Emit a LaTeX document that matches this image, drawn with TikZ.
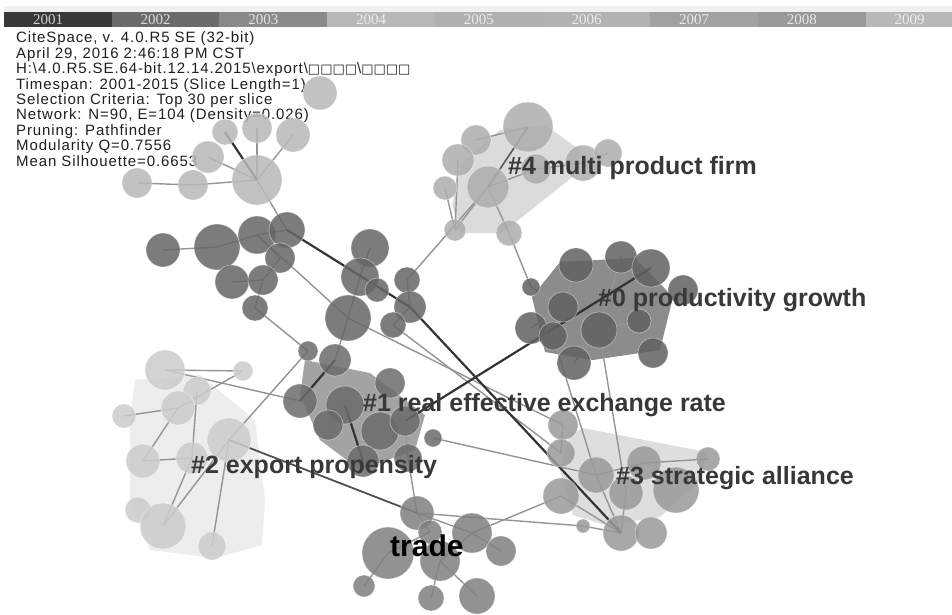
\documentclass[tikz,border=0pt]{standalone}
\usepackage{fontspec}
\setmainfont{Liberation Sans}
\newfontfamily\infofont[LetterSpace=6]{Liberation Sans}
\newfontfamily\labfont{Liberation Sans}
\newfontfamily\yearfont{Liberation Serif}
\newfontfamily\symfont{DejaVu Sans}
\pgfdeclarelayer{back}
\pgfdeclarelayer{hull}
\pgfdeclarelayer{edges}
\pgfsetlayers{back,hull,edges,main}
\definecolor{cul}{gray}{0.72}
\definecolor{cdk}{gray}{0.40}
\definecolor{cfour}{gray}{0.68}
\definecolor{czero}{gray}{0.38}
\definecolor{cone}{gray}{0.42}
\definecolor{ctwo}{gray}{0.80}
\definecolor{ctr}{gray}{0.50}
\definecolor{cthree}{gray}{0.60}
\definecolor{hfour}{gray}{0.86}
\definecolor{hzero}{gray}{0.55}
\definecolor{hone}{gray}{0.64}
\definecolor{htwo}{gray}{0.93}
\definecolor{hthree}{gray}{0.87}
\definecolor{edc}{gray}{0.58}
\definecolor{edk}{gray}{0.20}
\definecolor{labc}{gray}{0.22}
\definecolor{infoc}{gray}{0.12}
\tikzset{
  nd/.style={circle,inner sep=0pt,minimum size=#1,draw=white,draw opacity=0.45,line width=0.7pt,fill opacity=0.85},
  ed/.style={draw=edc,line width=1.4pt},
  edd/.style={draw=edk,line width=2.2pt},
  lab/.style={font=\labfont\bfseries\fontsize{25}{25}\selectfont,text=labc,inner sep=0pt,anchor=west},
  info/.style={font=\infofont\fontsize{15}{15}\selectfont,text=infoc,inner sep=0pt,anchor=base west},
  yr/.style={font=\yearfont\fontsize{15}{15}\selectfont,text=white,text opacity=0.75,inner sep=0pt}
}
\newcommand{\boxglyphs}{{\symfont\fontsize{13}{13}\selectfont □□□□}}
\begin{document}
\begin{tikzpicture}[x=1pt,y=-1pt]
\useasboundingbox (0,0) rectangle (952,615);
\begin{pgfonlayer}{back}
\fill[white] (0,0) rectangle (952,615);
\end{pgfonlayer}
% year bar
\fill[gray!12] (4,6) rectangle (952,12);
\foreach \i/\c/\yy in {0/0.22/2001,1/0.42/2002,2/0.54/2003,3/0.72/2004,4/0.69/2005,5/0.70/2006,6/0.63/2007,7/0.60/2008,8/0.72/2009}{
  \fill[fill={rgb,1:red,\c;green,\c;blue,\c}] ({4+107.7*\i},12) rectangle ({4+107.7*(\i+1)},27);
  \node[yr] (y\i) at ({4+107.7*\i+44},19.5) {\yy};
}
% info text
\node[info] (i1) at (16,43) {CiteSpace, v. 4.0.R5 SE (32-bit)};
\node[info] (i2) at (16,58.4) {April 29, 2016 2:46:18 PM CST};
\node[info] (i3) at (16,73.8) {H:\textbackslash 4.0.R5.SE.64-bit.12.14.2015\textbackslash export\textbackslash\boxglyphs\textbackslash\boxglyphs};
\node[info] (i4) at (16,89.2) {Timespan: 2001-2015 (Slice Length=1)};
\node[info] (i5) at (16,104.6) {Selection Criteria: Top 30 per slice};
\node[info] (i6) at (16,120) {Network: N=90, E=104 (Density=0.026)};
\node[info] (i7) at (16,135.4) {Pruning: Pathfinder};
\node[info] (i8) at (16,150.8) {Modularity Q=0.7556};
\node[info] (i9) at (16,166.2) {Mean Silhouette=0.6653};
% hulls
\begin{pgfonlayer}{hull}
\fill[hfour] (460,233)--(502,233)--(575,175)--(580,150)--(545,125)--(500,130)--(462,162)--(452,205)--cycle;
\fill[hzero] (532,297)--(560,262)--(635,258)--(673,297)--(660,350)--(593,360)--(545,352)--cycle;
\fill[hone] (305,360)--(370,373)--(425,415)--(415,450)--(360,470)--(320,440)--(300,395)--cycle;
\fill[htwo] (135,380)--(200,375)--(255,420)--(265,500)--(262,545)--(215,558)--(150,550)--(130,500)--(130,420)--cycle;
\fill[hthree] (583,428)--(706,452)--(700,480)--(660,517)--(605,525)--(573,515)--(560,470)--(570,435)--cycle;
\end{pgfonlayer}
% upper-left light cluster
\node[nd=34pt,fill=cul] (ua) at (320,93) {};
\node[nd=26pt,fill=cul] (ub) at (225,132) {};
\node[nd=30pt,fill=cul] (uc) at (257,128) {};
\node[nd=34pt,fill=cul] (ud) at (293,135) {};
\node[nd=32pt,fill=cul] (ue) at (208,157) {};
\node[nd=30pt,fill=cul] (uf) at (137,183) {};
\node[nd=30pt,fill=cul] (ug) at (193,185) {};
\node[nd=50pt,fill=cul] (uh) at (257,180) {};
% dark upper cluster
\node[nd=34pt,fill=cdk] (da) at (163,250) {};
\node[nd=46pt,fill=cdk] (db) at (217,247) {};
\node[nd=38pt,fill=cdk] (dc) at (257,235) {};
\node[nd=36pt,fill=cdk] (dd) at (287,230) {};
\node[nd=30pt,fill=cdk] (de) at (280,258) {};
\node[nd=34pt,fill=cdk] (df) at (232,282) {};
\node[nd=30pt,fill=cdk] (dg) at (263,280) {};
\node[nd=26pt,fill=cdk] (dh) at (255,308) {};
\node[nd=38pt,fill=cdk] (di) at (370,248) {};
\node[nd=38pt,fill=cdk] (dj) at (360,277) {};
\node[nd=24pt,fill=cdk] (dk) at (377,290) {};
\node[nd=46pt,fill=cdk] (dl) at (348,318) {};
\node[nd=26pt,fill=cdk] (dm) at (407,280) {};
\node[nd=32pt,fill=cdk] (dn) at (410,307) {};
\node[nd=26pt,fill=cdk] (do) at (393,325) {};
% cluster 4
\node[nd=50pt,fill=cfour] (fa) at (528,127) {};
\node[nd=30pt,fill=cfour] (fb) at (476,140) {};
\node[nd=32pt,fill=cfour] (fc) at (458,160) {};
\node[nd=24pt,fill=cfour] (fd) at (445,188) {};
\node[nd=42pt,fill=cfour] (fe) at (488,187) {};
\node[nd=30pt,fill=cfour] (ff) at (536,169) {};
\node[nd=36pt,fill=cfour] (fg) at (583,163) {};
\node[nd=28pt,fill=cfour] (fh) at (608,153) {};
\node[nd=22pt,fill=cfour] (fi) at (455,230) {};
\node[nd=26pt,fill=cfour] (fj) at (509,233) {};
% cluster 0
\node[nd=34pt,fill=czero] (za) at (576,265) {};
\node[nd=32pt,fill=czero] (zb) at (621,257) {};
\node[nd=38pt,fill=czero] (zc) at (651,268) {};
\node[nd=30pt,fill=czero] (zd) at (683,290) {};
\node[nd=18pt,fill=czero] (ze) at (531,287) {};
\node[nd=30pt,fill=czero] (zf) at (563,307) {};
\node[nd=32pt,fill=czero] (zg) at (531,328) {};
\node[nd=28pt,fill=czero] (zh) at (553,336) {};
\node[nd=36pt,fill=czero] (zi) at (599,330) {};
\node[nd=24pt,fill=czero] (zj) at (639,321) {};
\node[nd=34pt,fill=czero] (zk) at (574,363) {};
\node[nd=30pt,fill=czero] (zl) at (653,353) {};
% cluster 1
\node[nd=20pt,fill=cone] (oa) at (308,351) {};
\node[nd=32pt,fill=cone] (ob) at (335,360) {};
\node[nd=30pt,fill=cone] (oc) at (390,383) {};
\node[nd=34pt,fill=cone] (od) at (300,401) {};
\node[nd=38pt,fill=cone] (oe) at (345,405) {};
\node[nd=30pt,fill=cone] (of) at (328,425) {};
\node[nd=38pt,fill=cone] (og) at (380,431) {};
\node[nd=30pt,fill=cone] (oh) at (405,421) {};
\node[nd=18pt,fill=cone] (oi) at (433,438) {};
\node[nd=32pt,fill=cone] (oj) at (363,461) {};
\node[nd=28pt,fill=cone] (ok) at (408,458) {};
% cluster 2
\node[nd=40pt,fill=ctwo] (ta) at (165,370) {};
\node[nd=20pt,fill=ctwo] (tb) at (243,371) {};
\node[nd=28pt,fill=ctwo] (tc) at (197,391) {};
\node[nd=34pt,fill=ctwo] (td) at (178,408) {};
\node[nd=24pt,fill=ctwo] (te) at (124,416) {};
\node[nd=44pt,fill=ctwo] (tf) at (229,440) {};
\node[nd=34pt,fill=ctwo] (tg) at (143,461) {};
\node[nd=32pt,fill=ctwo] (th) at (192,458) {};
\node[nd=26pt,fill=ctwo] (ti) at (138,510) {};
\node[nd=46pt,fill=ctwo] (tj) at (163,526) {};
\node[nd=28pt,fill=ctwo] (tk) at (212,546) {};
% trade cluster
\node[nd=34pt,fill=ctr] (ra) at (417,513) {};
\node[nd=24pt,fill=ctr] (rb) at (430,532) {};
\node[nd=52pt,fill=ctr] (rc) at (388,553) {};
\node[nd=40pt,fill=ctr] (rd) at (472,533) {};
\node[nd=30pt,fill=ctr] (re) at (501,551) {};
\node[nd=40pt,fill=ctr] (rf) at (440,561) {};
\node[nd=22pt,fill=ctr] (rg) at (364,586) {};
\node[nd=26pt,fill=ctr] (rh) at (431,598) {};
\node[nd=36pt,fill=ctr] (ri) at (477,596) {};
% cluster 3
\node[nd=30pt,fill=cthree] (sa) at (563,425) {};
\node[nd=28pt,fill=cthree] (sb) at (561,453) {};
\node[nd=36pt,fill=cthree] (sc) at (596,475) {};
\node[nd=34pt,fill=cthree] (sd) at (644,463) {};
\node[nd=24pt,fill=cthree] (se) at (708,459) {};
\node[nd=46pt,fill=cthree] (sf) at (676,490) {};
\node[nd=34pt,fill=cthree] (sg) at (626,493) {};
\node[nd=36pt,fill=cthree] (sh) at (561,496) {};
\node[nd=14pt,fill=cthree] (si) at (583,526) {};
\node[nd=36pt,fill=cthree] (sj) at (621,533) {};
\node[nd=32pt,fill=cthree] (sk) at (651,533) {};
% edges
\begin{pgfonlayer}{edges}
\foreach \a/\b in {uh/uc,uh/ud,uh/ue,uh/ug,uf/ug,uh/dd,
  da/db,db/dc,dc/dd,dc/de,de/dg,dg/df,dg/dh,dh/oa,di/dj,dj/dl,dm/dn,dn/do,dc/dl,dm/fe,do/sb,dl/sa,ob/dl,
  fi/fc,fi/fe,fi/fd,fj/fe,fb/fa,fe/ff,ff/fg,fj/ze,fg/fh,
  ze/zi,za/zf,zb/zi,zh/sc,zi/sg,zf/zg,zj/zi,zk/zi,
  oe/of,oh/ok,ok/ra,oi/sc,ta/od,tf/oa,
  ta/tb,tb/td,tc/th,te/td,td/tg,tg/th,th/tj,tf/tj,tf/tk,
  ra/si,si/sj,rd/sh,ra/rb,rb/rc,ra/rd,rd/re,rd/rf,rf/rh,rf/ri,rc/rg,
  sd/se,sj/sc,sj/sg,sj/sh,sa/sb,sc/sd}
  {\draw[ed] (\a.center) -- (\b.center);}
\draw[edd] (uh.center) -- (ub.center);
\draw[edd] (dd.center) -- (dn.center);
\draw[edd] (dn.center) -- (sj.center);
\draw[edd] (oh.center) -- (zc.center);
\draw[edd] (od.center) -- (ob.center);
\draw[edd] (oe.center) -- (oj.center);
\draw[draw=edk!70!edc,line width=1.8pt] (tf.center) -- (ra.center);
\draw[draw=edk!60!edc,line width=1.6pt] (fa.center) -- (fe.center);
\end{pgfonlayer}
% labels
\node[lab] (l4) at (508,168) {\#4 multi product firm};
\node[lab] (l0) at (598,300) {\#0 productivity growth};
\node[lab] (l1) at (363,405) {\#1 real effective exchange rate};
\node[lab] (l2) at (191,467) {\#2 export propensity};
\node[lab] (l3) at (616,478) {\#3 strategic alliance};
\node[lab,font=\labfont\bfseries\fontsize{30}{30}\selectfont,text=black] (lt) at (390,546) {trade};
\end{tikzpicture}
\end{document}
